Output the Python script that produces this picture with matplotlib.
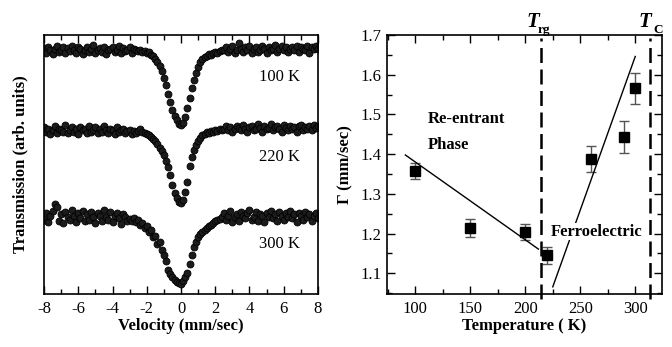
from matplotlib import pyplot as plt
from matplotlib.ticker import MultipleLocator
import numpy as np

plt.rcParams['font.family'] = ['Liberation Serif', 'DejaVu Serif']
plt.rcParams['axes.unicode_minus'] = False
plt.rcParams['xtick.direction'] = 'in'
plt.rcParams['ytick.direction'] = 'in'

# Mossbauer spectra, relative transmission (arb. units), 129 channels from -8 to 8 mm/sec
spec_100 = [2, -3, 3, 0, -4, 1, 4, -2, 0, 3,
            -3, 2, -1, 4, 0, -3, 3, 1, -4, 0,
            3, -2, 1, 5, -3, 0, 2, -2, 3, -4,
            0, 1, 3, -2, 0, 4, -3, 2, -1, 0,
            3, -3, 1, 0,
            -1, 0, -2, -1, -3, -2, -5, -6, -9, -12,
            -16, -21, -28, -35, -44, -52, -60, -66, -70, -74,
            -75, -73, -67, -58, -48, -38, -30, -23, -17, -12,
            -9, -7, -6, -4, -5, -3, -2, -3, -1, 0,
            0, 3, -2, 1, 4, -3, 0, 7, 1, -2,
            3, 0, 4, -3, 1, 3, -2, 0, 4, 1,
            -3, 3, 0, 1, 5, -2, 1, 4, 0, 3,
            -2, 1, 3, 0, 4, -2, 3, 1, 0, 4,
            -3, 3, 1, 4, 1]
spec_220 = [3, -2, 1, -4, 0, 4, -3, 1, 0, -2,
            5, -3, 0, 3, -2, 1, -4, 3, 0, 1,
            -3, 4, -2, 0, 3, -3, 1, -2, 4, 0,
            -3, 1, 0, -4, 3, -2, 0, 1, -3, -1,
            0, -4, -1, -3,
            -1, 1, -2, -3, -4, -5, -7, -9, -11, -14,
            -18, -21, -25, -31, -37, -45, -55, -63, -68, -72,
            -73, -70, -62, -52, -36, -27, -20, -15, -11, -8,
            -5, -4, -2, -3, -1, -2, 0, -1, 1, 0,
            1, 4, 0, 3, -2, 1, 4, 2, 0, 5,
            1, -2, 3, 4, 0, 1, 6, 2, -2, 4,
            1, 2, 6, 0, 3, 4, 1, -2, 5, 2,
            0, 4, 1, 3, -2, 4, 5, 0, 3, 1,
            4, 0, 5, 2, 4]
spec_300 = [-3, 4, -5, 1, 6, 13, 10, -4, 3, -6,
            5, 0, -3, 7, 1, -5, 4, -1, 6, -4,
            3, -3, 5, 0, -6, 4, 1, -4, 7, 0,
            -3, 5, -5, 1, 4, -1, -7, 3, 0, -4,
            -2, -4, -1, -5, -3, -8, -6, -11, -9, -15,
            -13, -20, -19, -27, -25, -33, -38, -44, -53, -57,
            -60, -63, -65, -66, -67, -64, -60, -56, -47, -38,
            -30, -25, -20, -17, -15, -13, -11, -9, -8, -6,
            -4, -3, -2, 0,
            4, -3, 1, 6, -5, 0, 3, -4, 5, 1,
            -1, 4, 7, -3, 0, 5, -4, 3, 1, -5,
            4, 0, 6, -1, 3, -4, 5, 1, -3, 4,
            0, 6, -1, 3, -5, 4, 1, -3, 5, 0,
            3, -4, 1, 4, -1]
spec_labels = ['100 K', '220 K', '300 K']

# linewidth vs temperature
temp = [100, 150, 200, 220, 260, 290, 300]
gamma = [1.357, 1.214, 1.204, 1.145, 1.388, 1.443, 1.566]
gamma_err = [0.02, 0.023, 0.02, 0.021, 0.032, 0.04, 0.039]
fit1_t, fit1_g = [91, 212], [1.398, 1.161]
fit2_t, fit2_g = [225, 300], [1.066, 1.646]
t_rg, t_c = 214, 313

fig = plt.figure(figsize=(6.72, 3.47), dpi=100)

# ---- left: spectra
ax1 = fig.add_axes([0.0655, 0.1527, 0.4077, 0.7464])
offsets = [0, -80, -167]
for spec, off, lab in zip([spec_100, spec_220, spec_300], offsets, spec_labels):
    v = np.linspace(-8, 8, len(spec))
    ax1.plot(v, np.array(spec) + off, 'o', ms=5, mfc='#1c1c1c', mec='black', mew=0.6)
    ax1.text(6.95, off - 27, lab, ha='right', va='center', fontsize=12)

ax1.set_xlim(-8, 8)
ax1.set_ylim(-244, 15)
ax1.set_yticks([])
ax1.xaxis.set_major_locator(MultipleLocator(2))
ax1.xaxis.set_minor_locator(MultipleLocator(1))
ax1.tick_params(axis='x', which='both', top=True, labelsize=12, pad=5)
ax1.tick_params(which='major', length=6, width=1)
ax1.tick_params(which='minor', length=3.5, width=1)
ax1.set_xlabel('Velocity (mm/sec)', fontsize=12, fontweight='bold', labelpad=1)
ax1.set_ylabel('Transmission (arb. units)', fontsize=12, fontweight='bold', labelpad=11)

# ---- right: linewidth
ax2 = fig.add_axes([0.5754, 0.1527, 0.4092, 0.7464])
ax2.errorbar(temp, gamma, yerr=gamma_err, fmt='s', ms=6.5, mfc='black', mec='black',
             ecolor='#555555', elinewidth=1, capsize=3.5, capthick=1)
ax2.plot(fit1_t, fit1_g, color='black', lw=1)
ax2.plot(fit2_t, fit2_g, color='black', lw=1)
for t in [t_rg, t_c]:
    ax2.axvline(t, ymin=-0.02, ymax=0.99, color='black', lw=1.8,
                linestyle=(0, (6, 2.6)), clip_on=False)

ax2.text(111.3, 1.489, 'Re-entrant', fontsize=12, fontweight='bold', va='center')
ax2.text(111.3, 1.423, 'Phase', fontsize=12, fontweight='bold', va='center')
ax2.text(223.3, 1.205, 'Ferroelectric', fontsize=12, fontweight='bold', va='center',
         bbox=dict(facecolor='white', edgecolor='none', pad=0.5))

tr = ax2.get_xaxis_transform()
ax2.text(201.5, 1.032, 'T', transform=tr, fontsize=15, fontweight='bold', style='italic')
ax2.text(211.5, 1.006, 'rg', transform=tr, fontsize=9.5, fontweight='bold')
ax2.text(303, 1.032, 'T', transform=tr, fontsize=15, fontweight='bold', style='italic')
ax2.text(316.5, 1.006, 'C', transform=tr, fontsize=9.5, fontweight='bold')

ax2.set_xlim(74, 324)
ax2.set_ylim(1.048, 1.7)
ax2.xaxis.set_major_locator(MultipleLocator(50))
ax2.xaxis.set_minor_locator(MultipleLocator(25))
ax2.yaxis.set_major_locator(MultipleLocator(0.1))
ax2.yaxis.set_minor_locator(MultipleLocator(0.05))
ax2.tick_params(which='both', top=True, right=True, labelsize=12)
ax2.tick_params(axis='x', which='both', pad=5)
ax2.tick_params(which='major', length=6, width=1)
ax2.tick_params(which='minor', length=3.5, width=1)
ax2.set_xlabel('Temperature ( K)', fontsize=12, fontweight='bold', labelpad=1)
ax2.set_ylabel('\u0393 (mm/sec)', fontsize=12, fontweight='bold', labelpad=5)

for ax in [ax1, ax2]:
    for s in ax.spines.values():
        s.set_linewidth(1.2)

fig.savefig('out.png', dpi=100)
